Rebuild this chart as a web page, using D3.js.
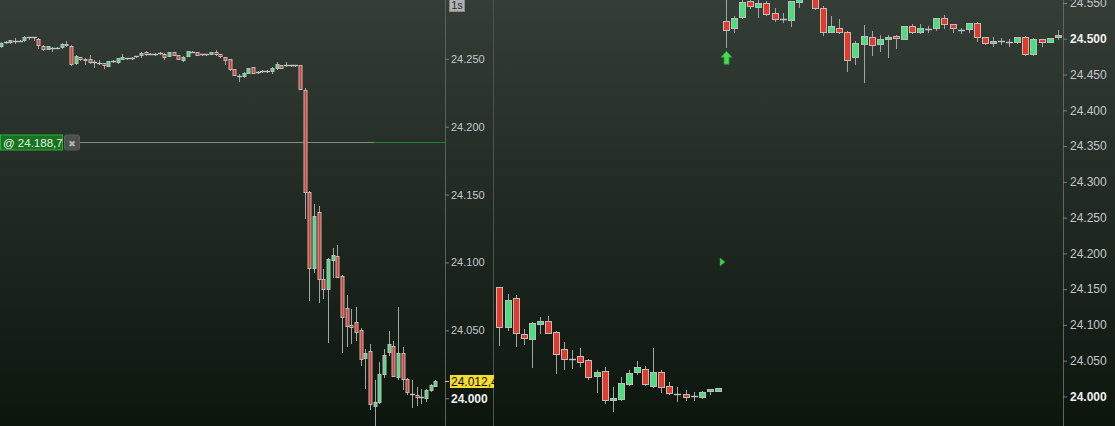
<!DOCTYPE html>
<html><head><meta charset="utf-8">
<script src="https://cdn.jsdelivr.net/npm/d3@7"></script>
<style>html,body{margin:0;padding:0;background:#1e261f;overflow:hidden}svg{display:block}</style>
</head><body><svg id="c" width="1115" height="426"></svg>
<script>
// ---------------- DATA ----------------
const leftOpen = [24259.2,24261.5,24261.8,24262.9,24262.9,24263.2,24265.7,24265.7,24264.2,24259.2,24257.0,24257.8,24257.8,24258.1,24260.7,24259.2,24246.3,24250.7,24249.7,24249.2,24247.5,24246.7,24246.5,24244.5,24248.0,24247.0,24249.5,24250.0,24250.2,24251.4,24252.4,24254.4,24253.4,24253.1,24253.9,24253.4,24251.9,24254.6,24252.2,24248.5,24251.9,24254.8,24254.6,24252.9,24252.9,24253.1,24254.6,24252.9,24250.7,24249.2,24242.1,24237.4,24236.9,24239.1,24243.3,24239.9,24240.4,24240.6,24240.4,24242.8,24245.0,24245.0,24244.8,24244.8,24244.8,24226.6,24151.7,24095.8,24136.6,24087.2,24080.3,24101.4,24104.4,24089.7,24065.9,24053.8,24055.6,24050.1,24029.0,24034.2,23993.9,23996.6,24017.3,24033.5,24038.1,24015.3,24032.7,24013.8,24003.3,24001.8,24000.6,24000.0,24005.9,24008.9];
const leftHigh = [24262.2,24262.7,24263.8,24264.7,24263.4,24266.2,24265.9,24265.9,24264.7,24259.8,24259.0,24258.5,24258.1,24261.0,24262.7,24259.5,24252.4,24250.9,24250.0,24252.4,24248.7,24248.5,24246.7,24248.2,24248.5,24250.2,24253.1,24250.5,24250.6,24252.0,24254.4,24255.3,24253.9,24253.6,24254.8,24253.6,24254.6,24254.8,24252.4,24251.4,24255.6,24255.3,24254.9,24253.3,24253.3,24254.9,24255.9,24253.2,24251.0,24249.5,24242.4,24238.2,24239.6,24243.0,24243.6,24240.5,24241.0,24241.6,24243.6,24247.5,24245.4,24247.0,24245.3,24245.3,24245.4,24228.3,24152.3,24142.7,24141.4,24094.6,24102.9,24110.5,24112.5,24090.4,24075.7,24065.1,24066.6,24051.4,24035.7,24039.6,24013.1,24026.3,24035.9,24049.1,24041.8,24067.0,24037.1,24014.5,24013.1,24008.1,24006.2,24006.2,24010.1,24012.8];
const leftLow = [24258.5,24260.9,24261.5,24261.0,24262.5,24262.9,24264.2,24263.4,24257.3,24256.1,24256.8,24255.6,24257.6,24257.8,24259.2,24245.0,24245.5,24248.9,24245.8,24246.7,24243.8,24245.5,24243.0,24244.3,24247.2,24246.3,24249.2,24249.5,24249.8,24251.0,24250.7,24252.4,24253.0,24252.7,24253.5,24249.7,24251.7,24252.4,24249.5,24248.2,24251.7,24254.3,24252.2,24252.5,24252.5,24252.9,24252.5,24250.8,24245.8,24241.7,24237.5,24233.3,24236.5,24238.8,24239.0,24239.4,24239.9,24240.1,24239.4,24242.4,24242.6,24244.6,24244.4,24244.4,24227.0,24132.6,24072.0,24092.8,24070.7,24073.2,24041.3,24089.1,24088.9,24033.9,24038.3,24040.1,24042.5,24023.9,24006.9,23991.5,23979.0,23996.1,24015.5,24031.5,24016.0,24013.8,24006.2,24003.0,23993.4,23994.7,23995.9,23997.8,24005.0,24008.6];
const leftClose = [24261.5,24261.8,24263.4,24263.0,24262.9,24265.9,24265.6,24265.6,24259.5,24256.6,24258.8,24257.8,24257.7,24260.7,24259.5,24245.5,24251.4,24249.2,24248.5,24247.0,24247.4,24246.6,24244.8,24248.0,24248.1,24250.0,24250.7,24250.1,24250.2,24251.5,24254.1,24253.1,24253.4,24253.2,24253.9,24251.1,24254.4,24252.6,24249.7,24251.1,24255.3,24254.8,24252.6,24252.9,24252.8,24254.8,24253.1,24251.4,24248.5,24241.9,24237.7,24237.3,24239.4,24242.8,24239.1,24239.9,24240.4,24240.6,24242.8,24246.0,24243.0,24245.0,24244.8,24244.8,24227.1,24151.7,24095.8,24133.8,24087.7,24080.3,24102.0,24105.3,24089.1,24059.7,24053.1,24052.1,24048.6,24028.3,24033.2,23995.4,23996.6,24017.3,24031.5,24039.4,24016.2,24032.7,24013.6,24004.0,24003.0,24000.3,24000.3,24005.5,24009.6,24012.4];

const rightOpen = [24151.9,24095.9,24136.5,24086.2,24080.0,24101.0,24104.3,24088.9,24065.2,24052.0,24055.4,24049.8,24028.3,24034.4,23993.9,23996.1,24017.1,24033.0,24037.2,24014.3,24033.0,24013.5,24003.1,24002.3,24000.3,23998.9,24006.5,24007.3,24524.1,24513.9,24529.3,24552.1,24544.1,24548.9,24534.9,24526.9,24526.0,24551.1,24558.0,24559.1,24541.9,24509.2,24513.9,24508.3,24474.2,24492.4,24501.4,24491.6,24498.6,24503.2,24499.4,24516.7,24509.2,24513.0,24513.9,24527.9,24519.5,24511.6,24512.5,24520.9,24501.4,24493.0,24496.2,24495.2,24494.4,24501.4,24477.6,24498.6,24495.2,24501.4];
const rightHigh = [24152.3,24142.5,24141.1,24093.1,24103.3,24110.3,24111.7,24090.8,24075.4,24064.2,24066.6,24051.2,24035.8,24040.0,24012.5,24026.5,24036.2,24048.8,24041.4,24067.0,24036.2,24019.5,24012.9,24008.3,24005.5,24006.5,24010.4,24011.5,24556.3,24531.1,24554.9,24553.5,24555.0,24552.1,24541.9,24535.7,24552.1,24560.5,24564.0,24560.5,24545.5,24531.1,24526.9,24509.5,24496.6,24518.5,24510.2,24504.6,24504.6,24503.9,24517.2,24519.9,24519.9,24517.2,24528.6,24532.5,24519.9,24514.8,24521.3,24522.7,24501.8,24501.4,24500.8,24498.6,24501.8,24503.2,24500.8,24499.0,24500.4,24511.6];
const rightLow = [24071.2,24092.2,24069.8,24072.6,24040.9,24088.4,24087.5,24032.5,24038.1,24039.5,24042.3,24023.2,24005.9,23990.5,23979.3,23995.0,24015.3,24031.1,24015.3,24013.2,24005.9,24002.7,23993.3,23994.7,23994.7,23997.5,24003.1,24006.9,24488.2,24509.2,24529.0,24542.3,24530.2,24533.2,24524.6,24523.2,24517.2,24544.1,24555.0,24540.9,24505.0,24508.3,24507.4,24454.7,24464.0,24439.3,24476.6,24482.6,24474.2,24486.8,24499.0,24506.9,24506.9,24509.2,24511.6,24513.9,24509.2,24507.8,24509.2,24496.6,24492.0,24489.2,24491.6,24489.6,24493.8,24477.0,24477.0,24489.6,24494.8,24498.6];
const rightClose = [24095.9,24133.7,24087.5,24080.6,24101.5,24104.7,24088.4,24059.0,24052.0,24052.2,24047.8,24026.9,24033.0,23994.7,23996.7,24017.6,24031.6,24040.0,24016.2,24033.0,24012.9,24003.7,24003.0,23998.9,24000.2,24005.1,24009.7,24011.1,24512.0,24527.9,24551.1,24544.7,24548.9,24534.3,24527.4,24526.8,24551.7,24557.7,24562.0,24542.7,24509.2,24516.7,24508.3,24470.0,24493.0,24502.8,24490.2,24498.6,24501.4,24500.0,24516.7,24509.2,24513.9,24512.9,24527.9,24519.5,24513.9,24511.5,24520.9,24501.4,24493.0,24496.6,24496.1,24495.1,24501.4,24477.6,24498.6,24495.2,24500.0,24504.6];

const leftTicks = [24000,24050,24100,24150,24200,24250];
const rightTicks = [24000,24050,24100,24150,24200,24250,24300,24350,24400,24450,24500,24550];
const boldTicks = [24000,24500];
const orderLevel = 24188.7;
const lastPrice = 24012.4;
const intervalLabel = "1s";
const signalIndex = 28;

// ---------------- CHART ----------------
const W = 1115, H = 426;
const svg = d3.select('#c');
const defs = svg.append('defs');
const bg = defs.append('linearGradient').attr('id','bg').attr('x1',0).attr('y1',0).attr('x2',0).attr('y2',1);
bg.append('stop').attr('offset','0%').attr('stop-color','#343d36');
bg.append('stop').attr('offset','100%').attr('stop-color','#0d160d');
svg.append('rect').attr('width',W).attr('height',H).attr('fill','url(#bg)');

const LP = {x0:0, x1:445};
const RP = {x0:494, x1:1063};
defs.append('clipPath').attr('id','clipL').append('rect').attr('x',0).attr('y',0).attr('width',LP.x1).attr('height',H);
defs.append('clipPath').attr('id','clipR').append('rect').attr('x',RP.x0+1).attr('y',0).attr('width',RP.x1-RP.x0-1).attr('height',H);
defs.append('clipPath').attr('id','clipLA').append('rect').attr('x',LP.x1).attr('y',0).attr('width',RP.x0-LP.x1).attr('height',H);

const yLeft = d3.scaleLinear().domain([23979.2, 24292.9]).range([H, 0]);
const yRight = d3.scaleLinear().domain([23958.0, 24553.5]).range([H, 0]);
const xLeft = d3.scaleBand().domain(d3.range(leftOpen.length)).range([-1.335, 437.6]);
const xRight = d3.scaleBand().domain(d3.range(rightOpen.length)).range([495.45, 1061.75]);

const fmtLoc = d3.formatLocale({decimal:",", thousands:".", grouping:[3], currency:["",""]});
const fmt0 = fmtLoc.format(",.0f");
const fmt1 = fmtLoc.format(",.1f");

const RED = '#e5392b', GREEN = '#4ade7c', EDGE = '#bcbcbc', WICK = '#a4a4a4';

function drawCandles(g, x, y, O, Hh, L, C, bw) {
  const data = O.map((o,i)=>({i, o, h:Hh[i], l:L[i], c:C[i]}));
  const cx = d => Math.round(x(d.i) + x.bandwidth()/2) + 0.5;
  g.selectAll('line.wick').data(data).join('line').attr('class','wick')
    .attr('x1',cx).attr('x2',cx)
    .attr('y1',d=>Math.round(y(d.h))).attr('y2',d=>Math.round(y(d.l))+1)
    .attr('stroke',WICK).attr('stroke-width',1);
  const isDoji = d => Math.abs(y(d.o)-y(d.c)) < 1.2;
  g.selectAll('rect.body').data(data.filter(d=>!isDoji(d))).join('rect').attr('class','body')
    .attr('x',d=>cx(d)-0.5-Math.floor(bw/2)+ (bw%2?0:0.5))
    .attr('y',d=>Math.round(y(Math.max(d.o,d.c)))+0.5)
    .attr('width',bw)
    .attr('height',d=>Math.max(1,Math.round(y(Math.min(d.o,d.c)))-Math.round(y(Math.max(d.o,d.c)))))
    .attr('fill',d=>d.c>=d.o?GREEN:RED)
    .attr('stroke',EDGE).attr('stroke-width',1);
  g.selectAll('line.doji').data(data.filter(isDoji)).join('line').attr('class','doji')
    .attr('x1',d=>cx(d)-Math.ceil(bw/2)-0.5).attr('x2',d=>cx(d)+Math.ceil(bw/2)+0.5)
    .attr('y1',d=>Math.round(y(d.c))+0.5).attr('y2',d=>Math.round(y(d.c))+0.5)
    .attr('stroke','#c4c4c4').attr('stroke-width',1.4);
}

// left panel
const gL = svg.append('g').attr('clip-path','url(#clipL)');
const yo = Math.round(yLeft(orderLevel))+0.5;
gL.append('line').attr('x1',80).attr('x2',374).attr('y1',yo).attr('y2',yo).attr('stroke','#858a85').attr('stroke-width',1);
gL.append('line').attr('x1',374).attr('x2',LP.x1).attr('y1',yo).attr('y2',yo).attr('stroke','#1f7f2c').attr('stroke-width',1);
drawCandles(gL.append('g'), xLeft, yLeft, leftOpen, leftHigh, leftLow, leftClose, 3);

// order label
svg.append('rect').attr('x',0.5).attr('y',yo-7.5).attr('width',62).attr('height',15)
  .attr('fill','#17731f').attr('stroke','#2fae3b');
svg.append('text').attr('x',3).attr('y',yo+4).text('@ ' + fmt1(orderLevel))
  .attr('fill','#e4efe4').attr('font-family','Liberation Sans, Arial, sans-serif').attr('font-size',11.5);
svg.append('rect').attr('x',64.5).attr('y',yo-7.5).attr('width',15).attr('height',15).attr('rx',2)
  .attr('fill','#4c504c').attr('stroke','#5a5e5a');
svg.append('text').attr('x',72).attr('y',yo+4).attr('text-anchor','middle').text('✖')
  .attr('fill','#b4b4b4').attr('font-family','DejaVu Sans, sans-serif').attr('font-size',9);

// right panel
const gR = svg.append('g').attr('clip-path','url(#clipR)');
drawCandles(gR.append('g'), xRight, yRight, rightOpen, rightHigh, rightLow, rightClose, 6);
// order level marker (right-pointing triangle)
const yt = Math.round(yRight(orderLevel))+1;
const tx = Math.round(xRight(signalIndex)) - 2;
gR.append('path').attr('d', `M${tx},${yt-4} L${tx+5},${yt} L${tx},${yt+4} Z`).attr('fill','#3fd24a').attr('stroke','#2a9a33').attr('stroke-width',0.6);
// signal arrow
const ax = Math.round(xRight(signalIndex)+xRight.bandwidth()/2)+0.5;
const ay = yRight(rightLow[signalIndex]) + 4.5;
gR.append('path').attr('d',`M${ax},${ay} L${ax+5.5},${ay+6} L${ax+2.5},${ay+6} L${ax+2.5},${ay+13} L${ax-2.5},${ay+13} L${ax-2.5},${ay+6} L${ax-5.5},${ay+6} Z`)
  .attr('fill','#46dc50').attr('stroke','#2a9a33').attr('stroke-width',0.8);

// separators
svg.append('line').attr('x1',LP.x1+0.5).attr('x2',LP.x1+0.5).attr('y1',0).attr('y2',H).attr('stroke','#59615a');
svg.append('line').attr('x1',RP.x0-0.5).attr('x2',RP.x0-0.5).attr('y1',0).attr('y2',H).attr('stroke','#4c544c');
svg.append('line').attr('x1',RP.x1+0.5).attr('x2',RP.x1+0.5).attr('y1',0).attr('y2',H).attr('stroke','#5e665e');

// axes
function styleAxis(g, fs) {
  g.select('.domain').remove();
  g.selectAll('.tick line').attr('stroke','#7a827a');
  g.selectAll('.tick text').attr('font-family','Liberation Sans, Arial, sans-serif')
    .attr('font-size',fs)
    .attr('font-weight',d=>boldTicks.includes(d)?'bold':'normal')
    .attr('fill',d=>boldTicks.includes(d)?'#f0f0f0':'#c3c7cc');
}
const axL = svg.append('g').attr('transform',`translate(${LP.x1},0.5)`)
  .call(d3.axisRight(yLeft).tickValues(leftTicks).tickSize(4).tickPadding(2).tickFormat(fmt0));
styleAxis(axL, 11);
axL.selectAll('.tick text').attr('font-size',d=>boldTicks.includes(d)?12:11);
const axR = svg.append('g').attr('transform',`translate(${RP.x1},0.5)`)
  .call(d3.axisRight(yRight).tickValues(rightTicks).tickSize(4).tickPadding(3).tickFormat(fmt0));
styleAxis(axR, 12);

// last price label
const gLA = svg.append('g').attr('clip-path','url(#clipLA)');
const yl = Math.round(yLeft(lastPrice));
gLA.append('rect').attr('x',450).attr('y',yl-6).attr('width',46).attr('height',13).attr('fill','#f4dc30');
gLA.append('text').attr('x',451).attr('y',yl+4.5).text(fmt1(lastPrice))
  .attr('fill','#111').attr('font-family','Liberation Sans, Arial, sans-serif').attr('font-size',12);
svg.append('line').attr('x1',LP.x1).attr('x2',LP.x1+4).attr('y1',yl+0.5).attr('y2',yl+0.5).attr('stroke','#c8c8c8');

// interval label
svg.append('rect').attr('x',449.5).attr('y',-1.5).attr('width',15).attr('height',13).attr('fill','#b2b2b2').attr('stroke','#8a8a8a');
svg.append('text').attr('x',457).attr('y',9).attr('text-anchor','middle').text(intervalLabel)
  .attr('fill','#2d2d3a').attr('font-family','Liberation Sans, Arial, sans-serif').attr('font-size',11);
</script>
</body></html>
